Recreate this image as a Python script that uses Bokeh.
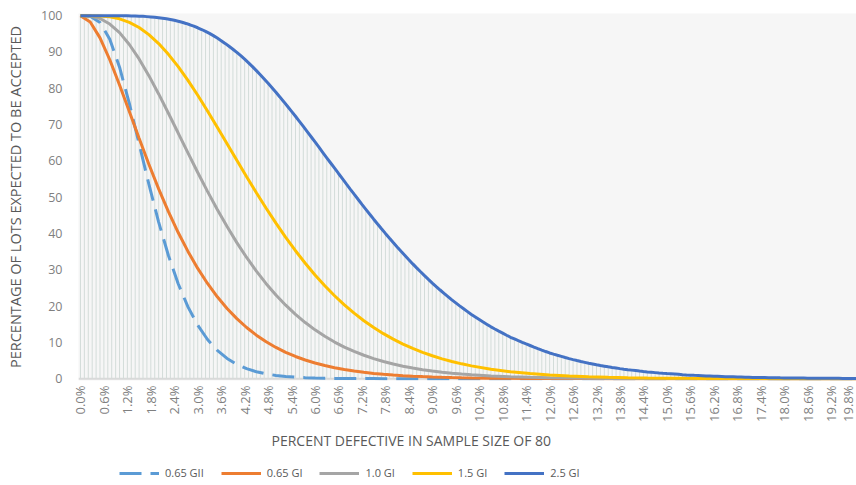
from bokeh.plotting import figure
from bokeh.layouts import column
from bokeh.models import Range1d, FixedTicker, Span, Title, Legend, LegendItem
from bokeh.embed import file_html
from bokeh.resources import INLINE

# ---------------- data ----------------
series_names = ["0.65 GII", "0.65 GI", "1.0 GI", "1.5 GI", "2.5 GI"]
series_colors = ["#5B9BD5", "#ED7D31", "#A5A5A5", "#FFC000", "#4472C4"]
series_dashes = ["22 9", "solid", "solid", "solid", "solid"]

x_tick_labels = ["0.0%", "0.6%", "1.2%", "1.8%", "2.4%", "3.0%", "3.6%", "4.2%", "4.8%", "5.4%",
                 "6.0%", "6.6%", "7.2%", "7.8%", "8.4%", "9.0%", "9.6%", "10.2%", "10.8%", "11.4%",
                 "12.0%", "12.6%", "13.2%", "13.8%", "14.4%", "15.0%", "15.6%", "16.2%", "16.8%",
                 "17.4%", "18.0%", "18.6%", "19.2%", "19.8%"]
y_ticks = [0, 10, 20, 30, 40, 50, 60, 70, 80, 90, 100]

# percent defective (categories every 0.1 %) for the 2.5 GI series and its drop lines
pct_fine = [0.0, 0.1, 0.2, 0.3, 0.4, 0.5, 0.6, 0.7, 0.8, 0.9,
            1.0, 1.1, 1.2, 1.3, 1.4, 1.5, 1.6, 1.7, 1.8, 1.9,
            2.0, 2.1, 2.2, 2.3, 2.4, 2.5, 2.6, 2.7, 2.8, 2.9,
            3.0, 3.1, 3.2, 3.3, 3.4, 3.5, 3.6, 3.7, 3.8, 3.9,
            4.0, 4.1, 4.2, 4.3, 4.4, 4.5, 4.6, 4.7, 4.8, 4.9,
            5.0, 5.1, 5.2, 5.3, 5.4, 5.5, 5.6, 5.7, 5.8, 5.9,
            6.0, 6.1, 6.2, 6.3, 6.4, 6.5, 6.6, 6.7, 6.8, 6.9,
            7.0, 7.1, 7.2, 7.3, 7.4, 7.5, 7.6, 7.7, 7.8, 7.9,
            8.0, 8.1, 8.2, 8.3, 8.4, 8.5, 8.6, 8.7, 8.8, 8.9,
            9.0, 9.1, 9.2, 9.3, 9.4, 9.5, 9.6, 9.7, 9.8, 9.9,
            10.0, 10.1, 10.2, 10.3, 10.4, 10.5, 10.6, 10.7, 10.8, 10.9,
            11.0, 11.1, 11.2, 11.3, 11.4, 11.5, 11.6, 11.7, 11.8, 11.9,
            12.0, 12.1, 12.2, 12.3, 12.4, 12.5, 12.6, 12.7, 12.8, 12.9,
            13.0, 13.1, 13.2, 13.3, 13.4, 13.5, 13.6, 13.7, 13.8, 13.9,
            14.0, 14.1, 14.2, 14.3, 14.4, 14.5, 14.6, 14.7, 14.8, 14.9,
            15.0, 15.1, 15.2, 15.3, 15.4, 15.5, 15.6, 15.7, 15.8, 15.9,
            16.0, 16.1, 16.2, 16.3, 16.4, 16.5, 16.6, 16.7, 16.8, 16.9,
            17.0, 17.1, 17.2, 17.3, 17.4, 17.5, 17.6, 17.7, 17.8, 17.9,
            18.0, 18.1, 18.2, 18.3, 18.4, 18.5, 18.6, 18.7, 18.8, 18.9,
            19.0, 19.1, 19.2, 19.3, 19.4, 19.5, 19.6, 19.7, 19.8, 19.9]

accept_25_gi = [100, 100, 100, 100, 100, 100, 100, 100, 99.99, 99.99,
                99.98, 99.97, 99.95, 99.93, 99.90, 99.86, 99.81, 99.74, 99.66, 99.57,
                99.46, 99.32, 99.16, 98.97, 98.74, 98.48, 98.19, 97.86, 97.49, 97.10,
                96.67, 96.19, 95.68, 95.12, 94.50, 93.83, 93.12, 92.36, 91.56, 90.74,
                89.88, 88.97, 88.02, 87.01, 85.96, 84.86, 83.73, 82.56, 81.36, 80.15,
                78.92, 77.62, 76.31, 74.99, 73.65, 72.29, 70.89, 69.49, 68.07, 66.65,
                65.22, 63.76, 62.30, 60.85, 59.41, 57.98, 56.53, 55.09, 53.65, 52.23,
                50.82, 49.42, 48.03, 46.66, 45.29, 43.94, 42.62, 41.31, 40.02, 38.75,
                37.50, 36.30, 35.11, 33.94, 32.77, 31.62, 30.53, 29.45, 28.39, 27.36,
                26.34, 25.38, 24.43, 23.50, 22.60, 21.70, 20.88, 20.06, 19.27, 18.48,
                17.69, 17.00, 16.31, 15.62, 14.95, 14.28, 13.69, 13.11, 12.54, 11.97,
                11.41, 10.94, 10.47, 10.01, 9.57, 9.14, 8.71, 8.29, 7.88, 7.48,
                7.09, 6.76, 6.44, 6.13, 5.82, 5.52, 5.25, 4.99, 4.74, 4.50,
                4.26, 4.05, 3.84, 3.64, 3.45, 3.26, 3.09, 2.93, 2.77, 2.62,
                2.48, 2.36, 2.23, 2.10, 1.98, 1.87, 1.77, 1.67, 1.57, 1.48,
                1.40, 1.33, 1.26, 1.19, 1.11, 1.04, 0.98, 0.92, 0.87, 0.82,
                0.77, 0.73, 0.68, 0.64, 0.60, 0.56, 0.53, 0.50, 0.47, 0.44,
                0.41, 0.39, 0.36, 0.34, 0.32, 0.30, 0.28, 0.27, 0.25, 0.23,
                0.22, 0.21, 0.19, 0.18, 0.17, 0.16, 0.15, 0.14, 0.13, 0.12,
                0.11, 0.10, 0.10, 0.09, 0.09, 0.08, 0.07, 0.07, 0.06, 0.06]

# percent defective for the other four curves
pct_coarse = [0, 0.25, 0.5, 0.75, 1, 1.25, 1.5, 1.75, 2, 2.25, 2.5, 2.75, 3, 3.25, 3.5, 3.75,
              4, 4.25, 4.5, 4.75, 5, 5.25, 5.5, 5.75, 6, 6.25, 6.5, 6.75, 7, 7.25, 7.5, 7.75,
              8, 8.25, 8.5, 8.75, 9, 9.25, 9.5, 9.75, 10, 10.5, 11, 11.5, 12, 12.5, 13, 13.5,
              14, 14.5, 15, 15.5, 16, 16.5, 17, 17.5, 18, 18.5, 19, 19.5, 20]

accept_065_gii = [100, 99.83, 98.13, 93.51, 85.80, 75.83, 64.72, 53.57, 43.15, 33.94, 26.15, 19.78,
                  14.72, 10.79, 7.81, 5.58, 3.95, 2.76, 1.92, 1.31, 0.90, 0.61, 0.41, 0.27,
                  0.18, 0.12, 0.08, 0.05, 0.03, 0.02, 0.02, 0.01, 0.01, 0.0, 0.0, 0.0,
                  0.0, 0.0, 0.0, 0.0, 0.0, 0.0, 0.0, 0.0, 0.0, 0.0, 0.0, 0.0,
                  0.0, 0.0, 0.0, 0.0, 0.0, 0.0, 0.0, 0.0, 0.0, 0.0, 0.0, 0.0, 0.0]

accept_065_gi = [100, 98.27, 93.88, 87.86, 80.92, 73.58, 66.21, 59.06, 52.30, 46.03, 40.26, 35.06,
                 30.38, 26.23, 22.56, 19.35, 16.54, 14.10, 11.99, 10.17, 8.61, 7.27, 6.12, 5.15,
                 4.33, 3.63, 3.03, 2.53, 2.11, 1.76, 1.46, 1.22, 1.01, 0.84, 0.69, 0.57,
                 0.47, 0.39, 0.32, 0.26, 0.22, 0.15, 0.10, 0.06, 0.04, 0.03, 0.02, 0.01,
                 0.01, 0.0, 0.0, 0.0, 0.0, 0.0, 0.0, 0.0, 0.0, 0.0, 0.0, 0.0, 0.0]

accept_10_gi = [100, 99.89, 99.23, 97.69, 95.34, 92.07, 88.08, 83.48, 78.44, 73.13, 67.67, 62.20,
                56.81, 51.60, 46.61, 41.90, 37.48, 33.39, 29.62, 26.18, 23.06, 20.25, 17.72, 15.46,
                13.45, 11.67, 10.09, 8.71, 7.50, 6.45, 5.53, 4.73, 4.04, 3.44, 2.93, 2.49,
                2.11, 1.79, 1.51, 1.27, 1.07, 0.76, 0.53, 0.37, 0.26, 0.18, 0.12, 0.08,
                0.06, 0.04, 0.03, 0.02, 0.01, 0.01, 0.0, 0.0, 0.0, 0.0, 0.0, 0.0, 0.0]

accept_15_gi = [100, 99.99, 99.93, 99.67, 99.13, 98.16, 96.74, 94.78, 92.32, 89.35, 85.95, 82.16,
                78.07, 73.75, 69.28, 64.73, 60.16, 55.65, 51.23, 46.96, 42.85, 38.94, 35.25, 31.80,
                28.58, 25.60, 22.85, 20.34, 18.05, 15.97, 14.09, 12.40, 10.89, 9.54, 8.33, 7.26,
                6.31, 5.47, 4.74, 4.09, 3.53, 2.62, 1.92, 1.40, 1.01, 0.73, 0.52, 0.37,
                0.26, 0.18, 0.13, 0.09, 0.06, 0.04, 0.03, 0.02, 0.01, 0.01, 0.01, 0.0, 0.0]

series_x = [pct_coarse, pct_coarse, pct_coarse, pct_coarse, pct_fine]
series_y = [accept_065_gii, accept_065_gi, accept_10_gi, accept_15_gi, accept_25_gi]

# ---------------- main figure ----------------
FONT = "Open Sans"
TICK_GRAY = "#7f7f7f"
TEXT_GRAY = "#595959"

p = figure(width=856, height=455, output_backend="svg", toolbar_location=None,
           x_range=Range1d(-0.05, 19.85), y_range=Range1d(-0.5, 100.6),
           min_border_left=78, min_border_right=0, min_border_top=13, min_border_bottom=75)

p.background_fill_color = "#f6f6f6"
p.border_fill_color = "white"
p.outline_line_color = None
p.xgrid.visible = False
p.ygrid.visible = False

p.xaxis.ticker = FixedTicker(ticks=[float(s.rstrip("%")) for s in x_tick_labels])
p.xaxis.major_label_overrides = {float(s.rstrip("%")): s for s in x_tick_labels}
p.xaxis.major_label_orientation = 1.5707963267948966
p.xaxis.axis_line_color = None
p.xaxis.major_tick_line_color = None
p.xaxis.minor_tick_line_color = None
p.xaxis.major_tick_out = 0
p.xaxis.major_label_standoff = 5
p.xaxis.major_label_text_font = FONT
p.xaxis.major_label_text_font_size = "13px"
p.xaxis.major_label_text_color = TICK_GRAY

p.yaxis.ticker = FixedTicker(ticks=y_ticks)
p.yaxis.axis_line_color = None
p.yaxis.major_tick_line_color = None
p.yaxis.minor_tick_line_color = None
p.yaxis.major_tick_out = 0
p.yaxis.major_label_standoff = 16
p.yaxis.major_label_text_font = FONT
p.yaxis.major_label_text_font_size = "12.5px"
p.yaxis.major_label_text_color = TICK_GRAY
p.yaxis.axis_label = "PERCENTAGE OF LOTS EXPECTED TO BE ACCEPTED"
p.yaxis.axis_label_standoff = 13
p.yaxis.axis_label_text_font = FONT
p.yaxis.axis_label_text_font_style = "normal"
p.yaxis.axis_label_text_font_size = "14.5px"
p.yaxis.axis_label_text_color = TEXT_GRAY

# horizontal axis line at zero
p.add_layout(Span(location=0, dimension="width", line_color="#d9d9d9", line_width=2, level="underlay"))

# drop lines of the 2.5 GI series
p.segment(x0=pct_fine, y0=[0] * len(pct_fine), x1=pct_fine, y1=accept_25_gi,
          line_color="#d3dcd9", line_width=1)

for xs, ys, c, d in zip(series_x, series_y, series_colors, series_dashes):
    p.line(xs, ys, line_color=c, line_width=3, line_dash=d)

xtitle = Title(text="PERCENT DEFECTIVE IN SAMPLE SIZE OF 80", align="left", offset=193,
               standoff=8, text_font=FONT, text_font_style="normal",
               text_font_size="14px", text_color=TEXT_GRAY)
p.add_layout(xtitle, "below")

# ---------------- legend strip (same series, drawn out of view; only the legend shows) ----------------
lg = figure(width=856, height=30, output_backend="svg", toolbar_location=None,
            x_range=Range1d(-0.05, 19.85), y_range=Range1d(500, 600),
            x_axis_location=None, y_axis_location=None,
            min_border_left=0, min_border_right=0, min_border_top=0, min_border_bottom=0)
lg.outline_line_color = None
lg.xgrid.visible = False
lg.ygrid.visible = False
lg.background_fill_color = "white"
lg.border_fill_color = "white"

legend_renderers = [lg.line(xs, ys, line_color=c, line_width=3, line_dash=d)
                    for xs, ys, c, d in zip(series_x, series_y, series_colors, series_dashes)]
legend = Legend(items=[LegendItem(label=n, renderers=[r]) for n, r in zip(series_names, legend_renderers)],
                orientation="horizontal", location=(41, 5),
                glyph_width=40, glyph_height=14, label_height=14, label_standoff=6,
                spacing=17, padding=0, margin=0,
                border_line_color=None, background_fill_alpha=0,
                label_text_font=FONT, label_text_font_size="11px", label_text_color=TEXT_GRAY)
lg.add_layout(legend, "center")

open("out.html", "w").write(file_html(column(p, lg, spacing=0), INLINE))
